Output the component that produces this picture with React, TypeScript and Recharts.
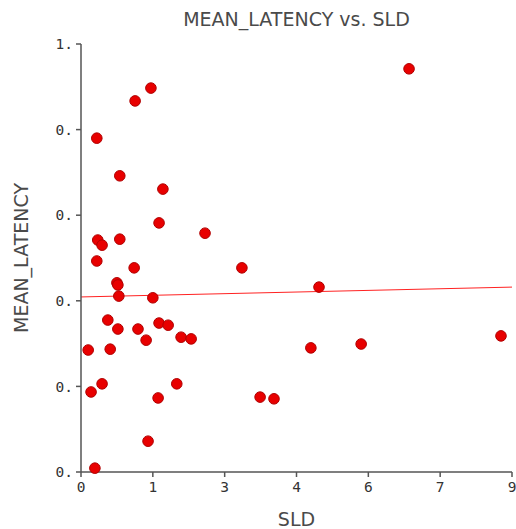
import { Label, ReferenceLine, Scatter, ScatterChart, XAxis, YAxis } from 'recharts';

const SLD = [
  0.33, 1.13, 1.46, 6.85, 0.81, 1.71, 1.63, 0.35, 0.44, 0.81, 2.59, 0.33, 1.11, 3.36, 0.75, 0.77, 0.79, 1.5, 4.97, 0.56,
  0.77, 1.19, 1.63, 1.82, 1.36, 2.09, 2.3, 0.15, 0.61, 4.8, 5.85, 8.77, 0.44, 0.21, 2.0, 1.61, 3.74, 4.03, 1.4, 0.29,
];
const MEAN_LATENCY = [
  0.78, 0.867, 0.897, 0.942, 0.692, 0.661, 0.582, 0.542, 0.53, 0.544, 0.558, 0.493, 0.477, 0.477, 0.442, 0.437, 0.411,
  0.407, 0.432, 0.355, 0.334, 0.334, 0.348, 0.343, 0.308, 0.315, 0.311, 0.285, 0.287, 0.29, 0.299, 0.318, 0.206, 0.187,
  0.206, 0.173, 0.175, 0.171, 0.072, 0.009,
];
// fitted trend line at both ends
const TREND_X = [0, 9];
const TREND_Y = [0.409, 0.432];

const X_TICKS = [0, 1.5, 3, 4.5, 6, 7.5, 9];
const Y_TICKS = [0, 0.2, 0.4, 0.6, 0.8, 1];

const points = SLD.map((x, i) => ({ x, y: MEAN_LATENCY[i] }));

const AXIS = '#555';
const TEXT = '#4a4a4a';
const tickStyle = { fill: '#333', fontSize: 14.5, fontFamily: 'DejaVu Sans Mono' };
const titleFont = { fill: TEXT, fontSize: 19, fontFamily: 'DejaVu Sans' };

const Dot = (props: { cx?: number; cy?: number }) => (
  <circle cx={props.cx} cy={props.cy} r={5.3} fill="#e80000" stroke="#b00000" strokeWidth={1} />
);

export default function App() {
  return (
    <div style={{ position: 'absolute', left: 0, top: 0, width: 516, height: 529, background: '#fff' }}>
      <div
        style={{
          position: 'absolute',
          left: 81,
          width: 431,
          top: 7,
          textAlign: 'center',
          fontFamily: 'DejaVu Sans',
          fontSize: 19,
          lineHeight: '24px',
          color: TEXT,
        }}
      >
        MEAN_LATENCY vs. SLD
      </div>
      <ScatterChart width={516} height={529} margin={{ top: 44, right: 4, left: 0, bottom: 0 }}>
        <XAxis
          type="number"
          dataKey="x"
          domain={[0, 9]}
          ticks={X_TICKS}
          tickFormatter={(v: number) => String(Math.trunc(v))}
          tick={tickStyle}
          stroke={AXIS}
          strokeWidth={1.5}
          tickSize={5}
          tickMargin={5}
          height={57}
        >
          <Label value="SLD" position="insideBottom" offset={3} style={titleFont} />
        </XAxis>
        <YAxis
          type="number"
          dataKey="y"
          domain={[0, 1]}
          ticks={Y_TICKS}
          tickFormatter={(v: number) => `${Math.trunc(v)}.`}
          tick={tickStyle}
          stroke={AXIS}
          strokeWidth={1.5}
          tickSize={5}
          tickMargin={3}
          width={81}
        >
          <Label
            value="MEAN_LATENCY"
            angle={-90}
            position="insideLeft"
            offset={21}
            style={{ ...titleFont, textAnchor: 'middle' }}
          />
        </YAxis>
        <ReferenceLine
          segment={[
            { x: TREND_X[0], y: TREND_Y[0] },
            { x: TREND_X[1], y: TREND_Y[1] },
          ]}
          stroke="#f22"
          strokeWidth={1}
        />
        <Scatter data={points} isAnimationActive={false} shape={<Dot />} />
      </ScatterChart>
    </div>
  );
}
